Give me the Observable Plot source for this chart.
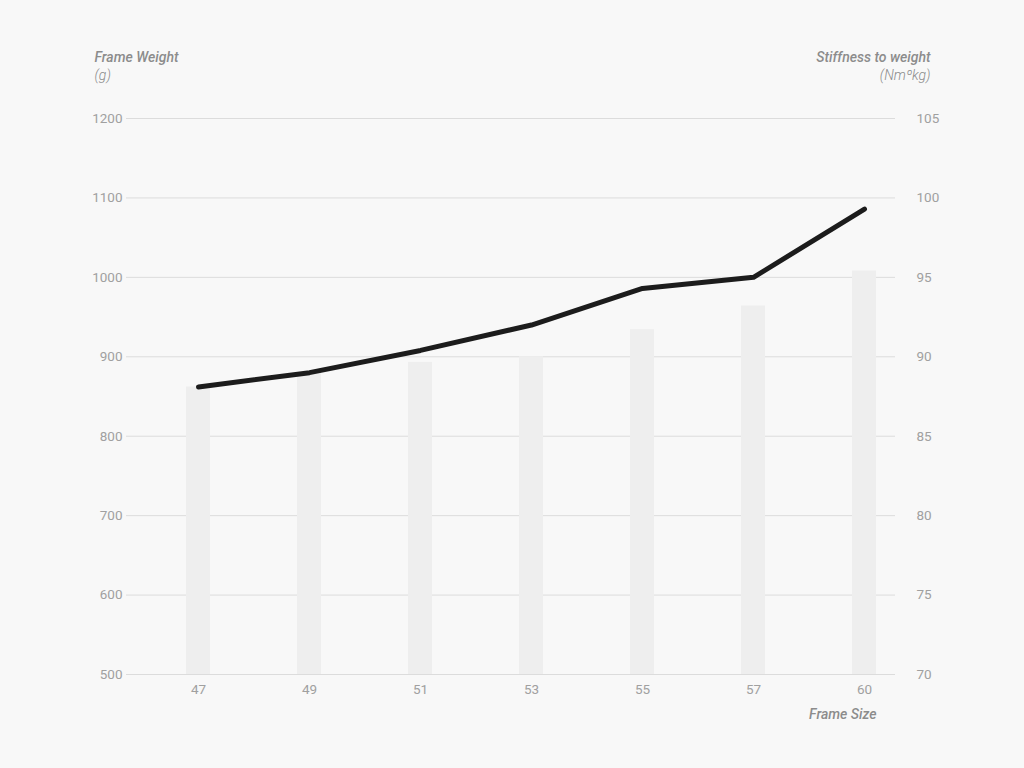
<!DOCTYPE html>
<html>
<head>
<meta charset="utf-8">
<script src="https://cdn.jsdelivr.net/npm/d3@7"></script>
<script src="https://cdn.jsdelivr.net/npm/@observablehq/plot@0.6"></script>
<style>
  html, body { margin: 0; padding: 0; background: #f8f8f8; }
  #chart { width: 1024px; height: 768px; }
  svg { font-family: Roboto, "Liberation Sans", sans-serif; }
</style>
</head>
<body>
<div id="chart"></div>
<script>
const sizes = ["47", "49", "51", "53", "55", "57", "60"];
const weights = [862, 880, 893, 900, 934, 964, 1008];
const stiffness = [88.1, 89.0, 90.4, 92.0, 94.3, 95.0, 99.3];
const leftTicks = [500, 600, 700, 800, 900, 1000, 1100, 1200];
const rightTicks = [70, 75, 80, 85, 90, 95, 100, 105];

const wMin = 500, wMax = 1200, sMin = 70, sMax = 105;
const s2w = s => wMin + (s - sMin) * (wMax - wMin) / (sMax - sMin);

const rows = sizes.map((s, i) => ({size: s, weight: weights[i], stiff: stiffness[i], stiffW: s2w(stiffness[i])}));
const rightRows = rightTicks.map(v => ({pos: s2w(v), label: String(v)}));

const tickColor = "#a0a0a0";
const titleColor = "#8c8c8c";

const chart = Plot.plot({
  width: 1024,
  height: 768,
  marginTop: 118,
  marginBottom: 94,
  marginLeft: 126,
  marginRight: 129,
  style: {background: "#f8f8f8", fontFamily: "Roboto, 'Liberation Sans', sans-serif"},
  x: {type: "band", domain: sizes, range: [186, 876], paddingInner: 0.784, paddingOuter: 0},
  y: {domain: [wMin, wMax]},
  marks: [
    Plot.ruleY(leftTicks, {stroke: "#dcdcdc", strokeWidth: 1}),
    Plot.barY(rows, {x: "size", y1: wMin, y2: "weight", fill: "#eeeeee"}),
    Plot.line(rows, {x: "size", y: "stiffW", stroke: "#1c1c1c", strokeWidth: 5, strokeLinecap: "round", strokeLinejoin: "round"}),
    Plot.axisY({ticks: leftTicks, tickFormat: d => String(d), anchor: "left", tickSize: 0, tickPadding: 4, fontSize: 13.5, color: tickColor, label: null}),
    Plot.text(rightRows, {y: "pos", text: "label", frameAnchor: "right", dx: 21, textAnchor: "start", fill: tickColor, fontSize: 13.5}),
    Plot.axisX({anchor: "bottom", tickSize: 0, tickPadding: 10, fontSize: 13.5, color: tickColor, label: null}),
    Plot.text(["Frame Weight"], {frameAnchor: "top-left", dx: -32, dy: -66, textAnchor: "start", fill: titleColor, fontSize: 14, fontWeight: 500, fontStyle: "italic"}),
    Plot.text(["(g)"], {frameAnchor: "top-left", dx: -32, dy: -48, textAnchor: "start", fill: titleColor, fontSize: 14, fontWeight: 300, fontStyle: "italic"}),
    Plot.text(["Stiffness to weight"], {frameAnchor: "top-right", dx: 35, dy: -66, textAnchor: "end", fill: titleColor, fontSize: 14, fontWeight: 500, fontStyle: "italic"}),
    Plot.text(["(Nmºkg)"], {frameAnchor: "top-right", dx: 35, dy: -48, textAnchor: "end", fill: titleColor, fontSize: 14, fontWeight: 300, fontStyle: "italic"}),
    Plot.text(["Frame Size"], {frameAnchor: "bottom-right", dx: -19, dy: 44, textAnchor: "end", fill: titleColor, fontSize: 14, fontWeight: 500, fontStyle: "italic"})
  ]
});
document.getElementById("chart").appendChild(chart);
</script>
</body>
</html>
